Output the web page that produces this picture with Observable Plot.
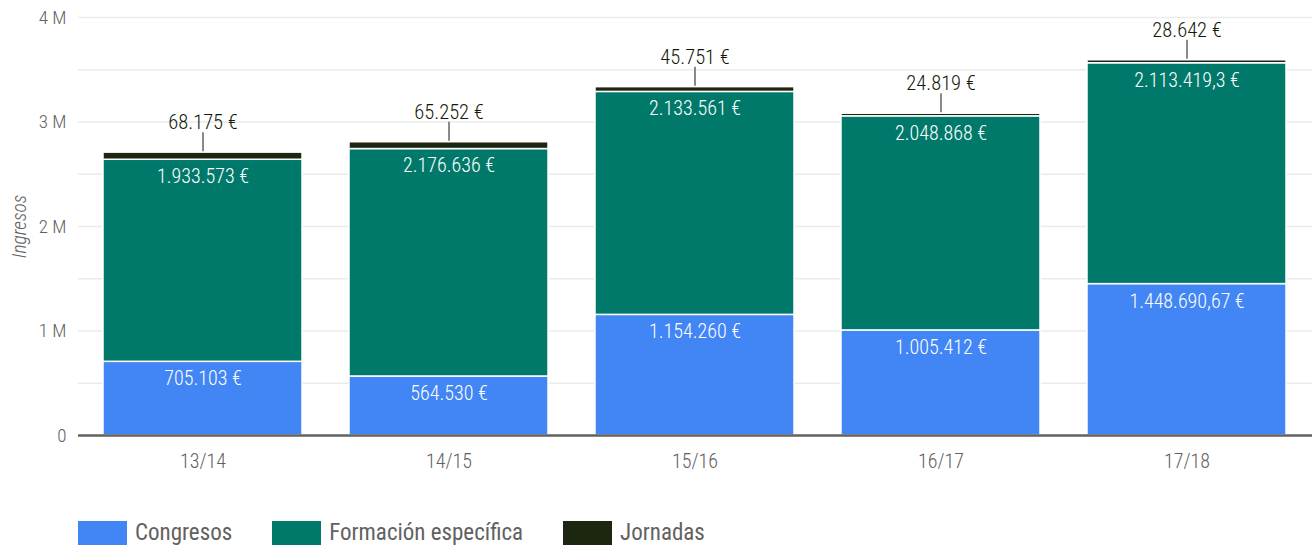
<!DOCTYPE html>
<html>
<head>
<meta charset="utf-8">
<script src="https://cdn.jsdelivr.net/npm/d3@7"></script>
<script src="https://cdn.jsdelivr.net/npm/@observablehq/plot@0.6"></script>
<style>
  html, body { margin: 0; padding: 0; background: #fff; }
  body { width: 1312px; height: 547px; overflow: hidden; font-family: "Roboto Condensed", "Liberation Sans Narrow", Roboto, sans-serif; }
  #chart svg { display: block; }
  #chart svg [aria-label="y-axis label"] text { font-style: italic; font-size: 19.5px; font-weight: 300; }
  #chart svg [aria-label="y-axis tick label"] text { font-size: 19px; font-weight: 300; }
  #chart svg [aria-label="x-axis tick label"] text { font-size: 20px; font-weight: 300; }
  .legend { display: flex; align-items: center; margin-left: 78px; margin-top: 29px; font-size: 23px; color: #616161; }
  .legend .item { display: flex; align-items: center; margin-right: 40px; }
  .legend .sw { width: 49px; height: 24px; margin-right: 8px; }
</style>
</head>
<body>
<div id="chart"></div>
<div class="legend" id="legend"></div>
<script>
const years = ["13/14", "14/15", "15/16", "16/17", "17/18"];
const series = ["Congresos", "Formación específica", "Jornadas"];
const congresos = [705103, 564530, 1154260, 1005412, 1448690.67];
const formacion = [1933573, 2176636, 2133561, 2048868, 2113419.3];
const jornadas = [68175, 65252, 45751, 24819, 28642];
const colors = ["#4285f4", "#00796b", "#1c2611"];
const yTicks = [0, 1e6, 2e6, 3e6, 4e6];
const gridTicks = [0.5e6, 1e6, 1.5e6, 2e6, 2.5e6, 3e6, 3.5e6, 4e6];

const locale = d3.formatLocale({decimal: ",", thousands: ".", grouping: [3], currency: ["", " €"]});
const fmt = locale.format(",.2~f");

const valuesBySerie = [congresos, formacion, jornadas];
const data = [];
series.forEach((s, si) => {
  years.forEach((y, yi) => {
    data.push({year: y, serie: s, value: valuesBySerie[si][yi], label: fmt(valuesBySerie[si][yi]) + " €"});
  });
});
const totals = years.map((y, i) => ({year: y, total: congresos[i] + formacion[i] + jornadas[i], label: fmt(jornadas[i]) + " €"}));

const stackOpts = {x: "year", y: "value", z: "serie", order: series};
const font = '"Roboto Condensed", "Liberation Sans Narrow", Roboto, sans-serif';

const chart = Plot.plot({
  width: 1312,
  height: 490,
  marginLeft: 78,
  marginRight: 0,
  marginTop: 17,
  marginBottom: 55,
  style: {fontFamily: font, fontSize: "18px", color: "#616161", background: "#fff"},
  x: {domain: years, paddingInner: 0.19, paddingOuter: 0.095, label: null},
  y: {domain: [0, 4e6], label: null},
  color: {domain: series, range: colors},
  marks: [
    Plot.ruleY(gridTicks, {stroke: "#ebebeb", strokeWidth: 1.5}),
    Plot.axisY({ticks: yTicks, tickSize: 0, tickPadding: 12, tickFormat: d => d === 0 ? "0" : (d / 1e6) + " M", fill: "#616161", label: "Ingresos", labelAnchor: "center", labelArrow: "none", labelOffset: 66}),
    Plot.axisX({tickSize: 0, tickPadding: 18, fill: "#616161", label: null}),
    Plot.barY(data, Plot.stackY({...stackOpts, fill: "serie", stroke: "white", strokeWidth: 1.5})),
    Plot.ruleY([0], {stroke: "#616161", strokeWidth: 2.5}),
    Plot.text(data, Plot.stackY2({...stackOpts, text: d => d.serie === "Jornadas" ? null : d.label, fill: "white", fontSize: 20, fontWeight: 300, dy: 17})),
    Plot.ruleX(totals, {x: "year", y1: "total", y2: "total", insetTop: -1, insetBottom: 20, stroke: "#8a8a8a", strokeWidth: 2}),
    Plot.text(totals, {x: "year", y: "total", text: "label", fill: "#111a08", fontSize: 20.5, fontWeight: 300, dy: -30})
  ]
});
document.getElementById("chart").appendChild(chart);

const legend = document.getElementById("legend");
series.forEach((s, i) => {
  const item = document.createElement("div");
  item.className = "item";
  const sw = document.createElement("div");
  sw.className = "sw";
  sw.style.background = colors[i];
  const lab = document.createElement("span");
  lab.textContent = s;
  item.appendChild(sw);
  item.appendChild(lab);
  legend.appendChild(item);
});
</script>
</body>
</html>
